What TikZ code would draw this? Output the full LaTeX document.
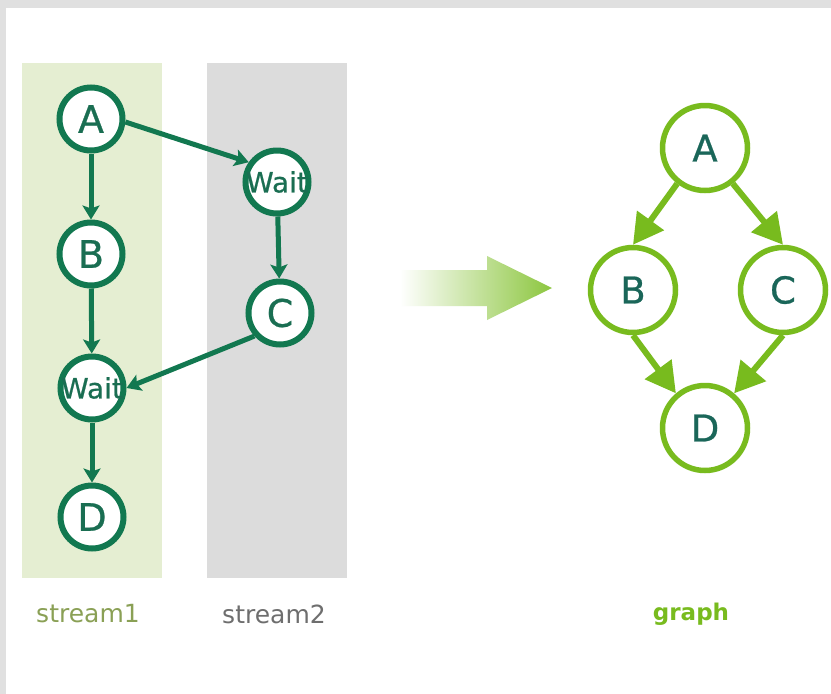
\documentclass[tikz,border=0pt]{standalone}
\usepackage{fontspec}
\setmainfont{DejaVu Sans}
\newfontfamily\nodefont{DejaVu Sans}[FakeBold=0.7]
\usetikzlibrary{arrows.meta}
\definecolor{bandgreen}{RGB}{229,238,210}
\definecolor{bandgray}{RGB}{220,220,220}
\definecolor{frame}{RGB}{224,224,224}
\definecolor{dkgreen}{RGB}{18,120,80}
\definecolor{dktext}{RGB}{26,110,82}
\definecolor{ltgreen}{RGB}{120,187,30}
\definecolor{rtext}{RGB}{26,102,89}
\definecolor{olive}{RGB}{138,160,85}
\definecolor{lblgray}{RGB}{110,110,110}
\definecolor{arrowgreen}{RGB}{140,198,63}
\definecolor{arrowmid}{RGB}{178,218,128}
\tikzset{
  lcirc/.style={circle, draw=dkgreen, line width=6pt, fill=white, minimum size=63pt, inner sep=0pt, text=dktext, font=\nodefont\fontsize{38}{38}\selectfont},
  wcirc/.style={lcirc, font=\nodefont\fontsize{28}{28}\selectfont},
  rcirc/.style={circle, draw=ltgreen, line width=5.5pt, fill=white, minimum size=85pt, inner sep=0pt, text=rtext, font=\nodefont\fontsize{37}{37}\selectfont},
  larr/.style={draw=dkgreen, line width=5pt, -{Stealth[length=14pt,width=17pt,inset=3pt]}},
  rarr/.style={draw=ltgreen, line width=6pt, -{Triangle[length=30pt,width=32pt]}},
  lbl/.style={font=\fontsize{25}{25}\selectfont}
}
\begin{document}
\begin{tikzpicture}[x=1pt,y=-1pt]
\useasboundingbox (0,0) rectangle (831,694);
\fill[white] (0,0) rectangle (831,694);
\fill[frame] (0,0) rectangle (831,8);
\fill[frame] (0,0) rectangle (6,694);
% stream bands
\fill[bandgreen] (22,63) rectangle (162,578);
\fill[bandgray] (207,63) rectangle (347,578);
% left nodes
\node[lcirc] (A1) at (91,119) {A};
\node[lcirc] (B1) at (91,254) {B};
\node[wcirc] (W1) at (92,388) {\makebox[0pt]{Wait}};
\node[lcirc] (D1) at (92,517) {D};
\node[wcirc] (W2) at (277,182) {\makebox[0pt]{Wait}};
\node[lcirc] (C2) at (280,313) {C};
% left arrows
\draw[larr] (A1) -- (B1);
\draw[larr] (B1) -- (W1);
\draw[larr] (W1) -- (D1);
\draw[larr] (W2) -- (C2);
\draw[larr] (A1.-5) -- (W2.145);
\draw[larr] (C2.222) -- (W1.east);
% labels
\node[lbl, text=olive] (s1) at (88,614) {stream1};
\node[lbl, text=lblgray] (s2) at (274,614) {stream2};
\node[lbl, text=ltgreen, font=\fontsize{23}{23}\selectfont\bfseries] (g) at (691,614) {graph};
% big arrow
\shade[left color=white, middle color=arrowmid, right color=arrowgreen]
  (400,270) -- (487,270) -- (487,256) -- (552,288) -- (487,320) -- (487,306) -- (400,306) -- cycle;
% right graph
\node[rcirc] (A) at (705,148) {A};
\node[rcirc] (B) at (633,290) {B};
\node[rcirc] (C) at (783,290) {C};
\node[rcirc] (D) at (705,428) {D};
\draw[rarr] (A.-128) -- (B.north);
\draw[rarr] (A.-52) -- (C.north);
\draw[rarr] (B.south) -- (D.130);
\draw[rarr] (C.south) -- (D.50);
\end{tikzpicture}
\end{document}
